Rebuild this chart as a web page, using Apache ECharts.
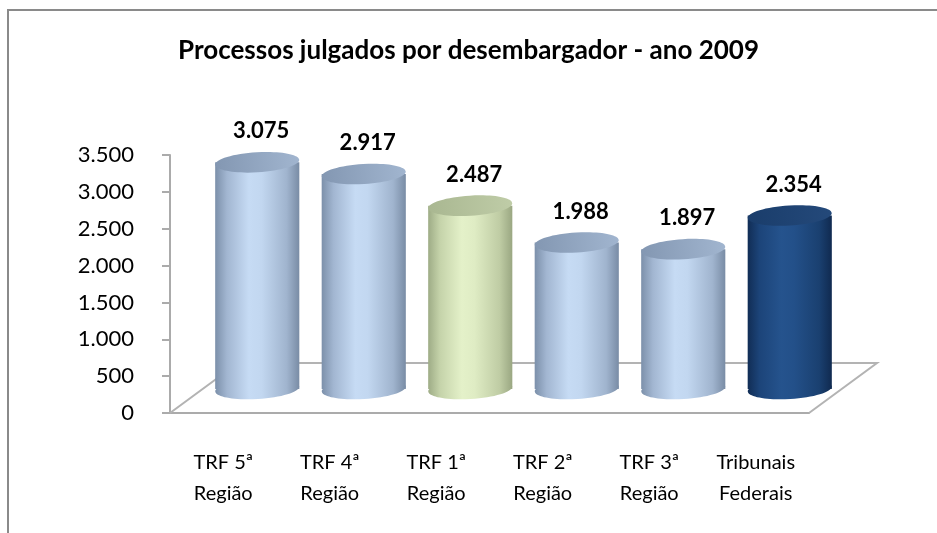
<!DOCTYPE html>
<html lang="pt">
<head>
<meta charset="utf-8">
<title>Processos julgados por desembargador - ano 2009</title>
<script src="https://cdn.jsdelivr.net/npm/echarts@6.0.0/dist/echarts.min.js"></script>
<style>
  html, body { margin: 0; padding: 0; background: #fff; }
  #main { width: 937px; height: 533px; }
</style>
</head>
<body>
<div id="main"></div>
<script type="text/javascript">
  // dados
  var categorias = ['TRF 5ª\nRegião', 'TRF 4ª\nRegião', 'TRF 1ª\nRegião', 'TRF 2ª\nRegião', 'TRF 3ª\nRegião', 'Tribunais\nFederais'];
  var processos = [3075, 2917, 2487, 1988, 1897, 2354];
  var yMin = 0, yMax = 3500, yStep = 500;

  // cor de cada cilindro
  var corBarra = ['claro', 'claro', 'verde', 'claro', 'claro', 'escuro'];
  var paletas = {
    claro: {
      corpo: ['#7c90aa', '#a2b6d1', '#c6dbf4', '#c2d7f0', '#a0b4ce', '#798ca5'],
      tampa: ['#8397b2', '#a1b5cf']
    },
    verde: {
      corpo: ['#9eac86', '#c5d3aa', '#e4f1c9', '#dfecc4', '#bfcca4', '#9aa782'],
      tampa: ['#a9b791', '#bfcca7']
    },
    escuro: {
      corpo: ['#112d55', '#1c4479', '#25538d', '#235089', '#1a4070', '#102a50'],
      tampa: ['#1a3d6b', '#24497a']
    }
  };

  // area dos eixos e area dos cilindros (deslocada para dar profundidade)
  var eixo = { left: 170, top: 155, width: 639, height: 258 };
  var fundo = { dx: 68, dy: 50 };
  var inclina = 0.06;

  function fmt(v) {
    return String(v).replace(/\B(?=(\d{3})+(?!\d))/g, '.');
  }

  function gradiente(cores) {
    var stops = [0, 0.14, 0.4, 0.55, 0.85, 1];
    return new echarts.graphic.LinearGradient(0, 0, 1, 0, cores.map(function (c, i) {
      return { offset: stops[i], color: c };
    }));
  }

  function cilindro(params, api) {
    var i = api.value(0);
    var v = api.value(1);
    var topo = api.coord([i, v]);
    var base = api.coord([i, 0]);
    var w = api.size([1, 0])[0] * 0.79;
    var rx = w / 2, ry = 10;
    var p = paletas[corBarra[i]];
    var corpo = gradiente(p.corpo);
    return {
      type: 'group',
      children: [
        {
          type: 'ellipse', shape: { cx: base[0], cy: base[1], rx: rx, ry: ry },
          rotation: inclina, originX: base[0], originY: base[1],
          style: { fill: corpo }
        },
        { type: 'rect', shape: { x: base[0] - rx, y: topo[1], width: w, height: base[1] - topo[1] }, style: { fill: corpo } },
        {
          type: 'ellipse', shape: { cx: topo[0], cy: topo[1], rx: rx, ry: ry },
          rotation: inclina, originX: topo[0], originY: topo[1],
          style: { fill: new echarts.graphic.LinearGradient(0, 0, 1, 0, [{ offset: 0, color: p.tampa[0] }, { offset: 1, color: p.tampa[1] }]) }
        },
        {
          type: 'text', x: topo[0] + 4, y: topo[1] - 31,
          style: {
            text: fmt(v), fill: '#000', align: 'center', verticalAlign: 'middle',
            fontFamily: 'Lato', fontWeight: 'bold', fontSize: 22
          }
        }
      ]
    };
  }

  var myChart = echarts.init(document.getElementById('main'));

  var dados = processos.map(function (v, i) { return [i, v]; });

  var option = {
    animation: false,
    backgroundColor: '#fff',
    title: {
      text: 'Processos julgados por desembargador - ano 2009',
      left: 'center',
      top: 33,
      textStyle: { fontFamily: 'Lato', fontWeight: 'bold', fontSize: 26, color: '#000' }
    },
    grid: [
      { left: eixo.left, top: eixo.top, width: eixo.width, height: eixo.height },
      { left: eixo.left + fundo.dx / 2, top: eixo.top - fundo.dy / 2 + 1, width: eixo.width, height: eixo.height }
    ],
    xAxis: [
      {
        type: 'category', gridIndex: 0, data: categorias,
        axisLine: { lineStyle: { color: '#ababab', width: 2 } },
        axisTick: { length: 9, lineStyle: { color: '#ababab', width: 2 } },
        axisLabel: { margin: 34, color: '#000', fontFamily: 'Lato', fontSize: 20, lineHeight: 31, interval: 0 }
      },
      { type: 'category', gridIndex: 1, data: categorias, show: false }
    ],
    yAxis: [
      {
        type: 'value', gridIndex: 0, min: yMin, max: yMax, interval: yStep,
        axisLine: { show: true, lineStyle: { color: '#ababab', width: 2 } },
        axisTick: { show: true, length: 8, lineStyle: { color: '#ababab', width: 2 } },
        splitLine: { show: false },
        axisLabel: { margin: 36, color: '#000', fontFamily: 'Lato', fontSize: 22, formatter: fmt }
      },
      { type: 'value', gridIndex: 1, min: yMin, max: yMax, show: false, splitLine: { show: false } }
    ],
    series: [
      {
        type: 'custom', xAxisIndex: 1, yAxisIndex: 1, z: 5,
        renderItem: cilindro,
        encode: { x: 0, y: 1 },
        data: dados
      }
    ]
  };
  myChart.setOption(option);

  // piso em perspectiva e moldura do grafico
  var x0 = eixo.left, x1 = eixo.left + eixo.width, y0 = eixo.top + eixo.height;
  myChart.setOption({
    graphic: [
      {
        type: 'rect', z: 0, silent: true,
        shape: { x: 8, y: 10, width: 1200, height: 900 },
        style: { fill: 'none', stroke: '#8a8a8a', lineWidth: 2 }
      },
      {
        type: 'polyline', z: 1, silent: true,
        shape: { points: [[x0, y0], [x0 + fundo.dx, y0 - fundo.dy], [x1 + fundo.dx, y0 - fundo.dy], [x1, y0]] },
        style: { fill: 'none', stroke: '#b3b3b3', lineWidth: 2 }
      }
    ]
  });
</script>
</body>
</html>
